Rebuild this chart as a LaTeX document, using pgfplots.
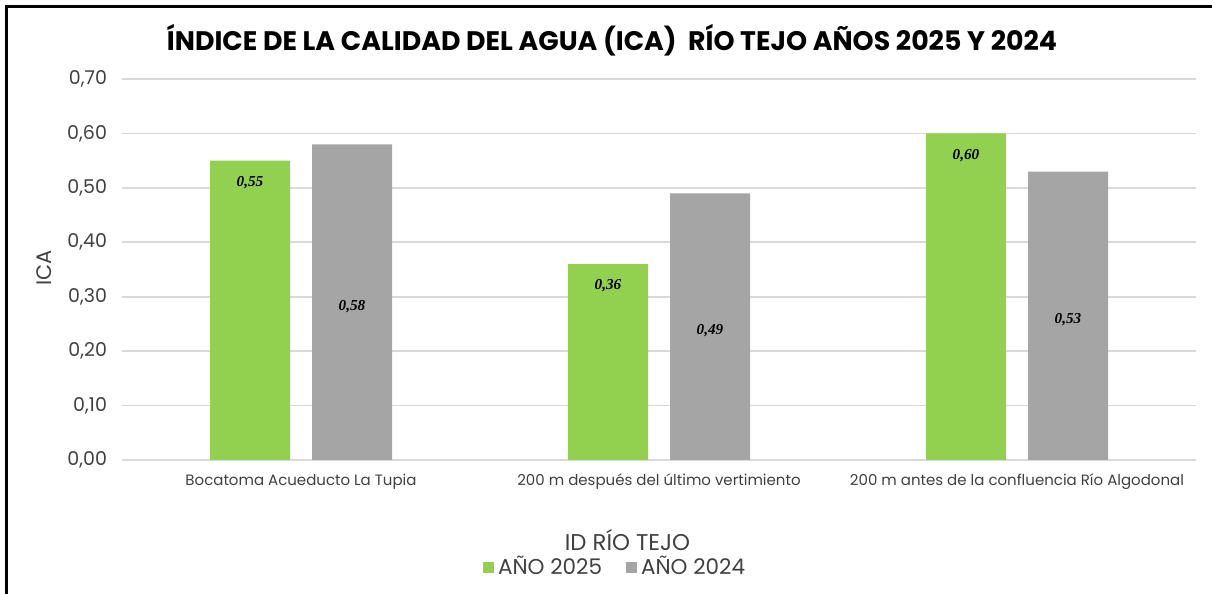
\documentclass[border=0pt]{standalone}
\usepackage{fontspec}
\setmainfont{Poppins}
\newfontfamily\lblfont{Liberation Serif}
\usepackage{pgfplots}
\pgfplotsset{compat=1.18}
\definecolor{gverde}{HTML}{92D050}
\definecolor{ggris}{HTML}{A5A5A5}
\definecolor{gridc}{HTML}{D9D9D9}
\definecolor{txt}{HTML}{404040}
\begin{document}
\begin{tikzpicture}
\path[use as bounding box] (0,0) rectangle (606pt,297pt);
\draw[line width=1.3pt,black] (3.25pt,0) -- (3.25pt,293.75pt) -- (606pt,293.75pt);
\begin{axis}[
  at={(61pt,67pt)}, anchor=south west,
  scale only axis, width=537pt, height=190.5pt,
  ybar=11pt, bar width=40pt,
  xmin=-0.5, xmax=2.5, ymin=0, ymax=0.7,
  xtick={0,1,2}, xticklabels={Bocatoma Acueducto La Tupia,200 m después del último vertimiento,200 m antes de la confluencia Río Algodonal},
  ytick={0,0.1,...,0.71},
  axis line style={draw=none},
  major tick style={draw=none},
  ymajorgrids, xmajorgrids=false, grid style={draw=gridc, line width=0.8pt},
  /pgf/number format/.cd, use comma, fixed, fixed zerofill, precision=2, assume math mode=true,
  /pgfplots/.cd,
  yticklabel style={font=\fontsize{9.5}{11}\selectfont, text=txt, xshift=-4pt},
  xticklabel style={font=\fontsize{7.5}{9}\selectfont, text=txt, yshift=1pt},
  nodes near coords,
  nodes near coords style={font=\lblfont\bfseries\itshape\fontsize{7.6}{9}\selectfont, text=black},
  legend style={at={(axis description cs:0.46,-0.281)}, anchor=center, draw=none, fill=none,
    font=\fontsize{10.75}{12}\selectfont, text=txt, legend columns=2,
    /tikz/every even column/.append style={column sep=10pt}, inner sep=0pt},
  legend image code/.code={\fill[#1] (0pt,-2.75pt) rectangle (5.5pt,2.75pt);},
]
\addplot[fill=gverde, draw=none, every node near coord/.append style={anchor=center, yshift=-11pt}]
  coordinates {(0,0.55) (1,0.36) (2,0.60)};
\addplot[fill=ggris, draw=none, visualization depends on={rawy \as \rawy},
  every node near coord/.append style={anchor=center, yshift={-\rawy*136.07pt-2pt}}]
  coordinates {(0,0.58) (1,0.49) (2,0.53)};
\legend{AÑO 2025,AÑO 2024}
\end{axis}
\node[font=\bfseries\fontsize{13.4}{15}\selectfont] at (306pt,277pt) {ÍNDICE DE LA CALIDAD DEL AGUA (ICA)\ \ RÍO TEJO AÑOS 2025 Y 2024};
\node[rotate=90, font=\fontsize{10.5}{12}\selectfont, text=txt] at (22.25pt,163pt) {ICA};
\node[font=\fontsize{11.4}{13}\selectfont, text=txt] at (313.75pt,27pt) {ID RÍO TEJO};
\end{tikzpicture}
\end{document}
